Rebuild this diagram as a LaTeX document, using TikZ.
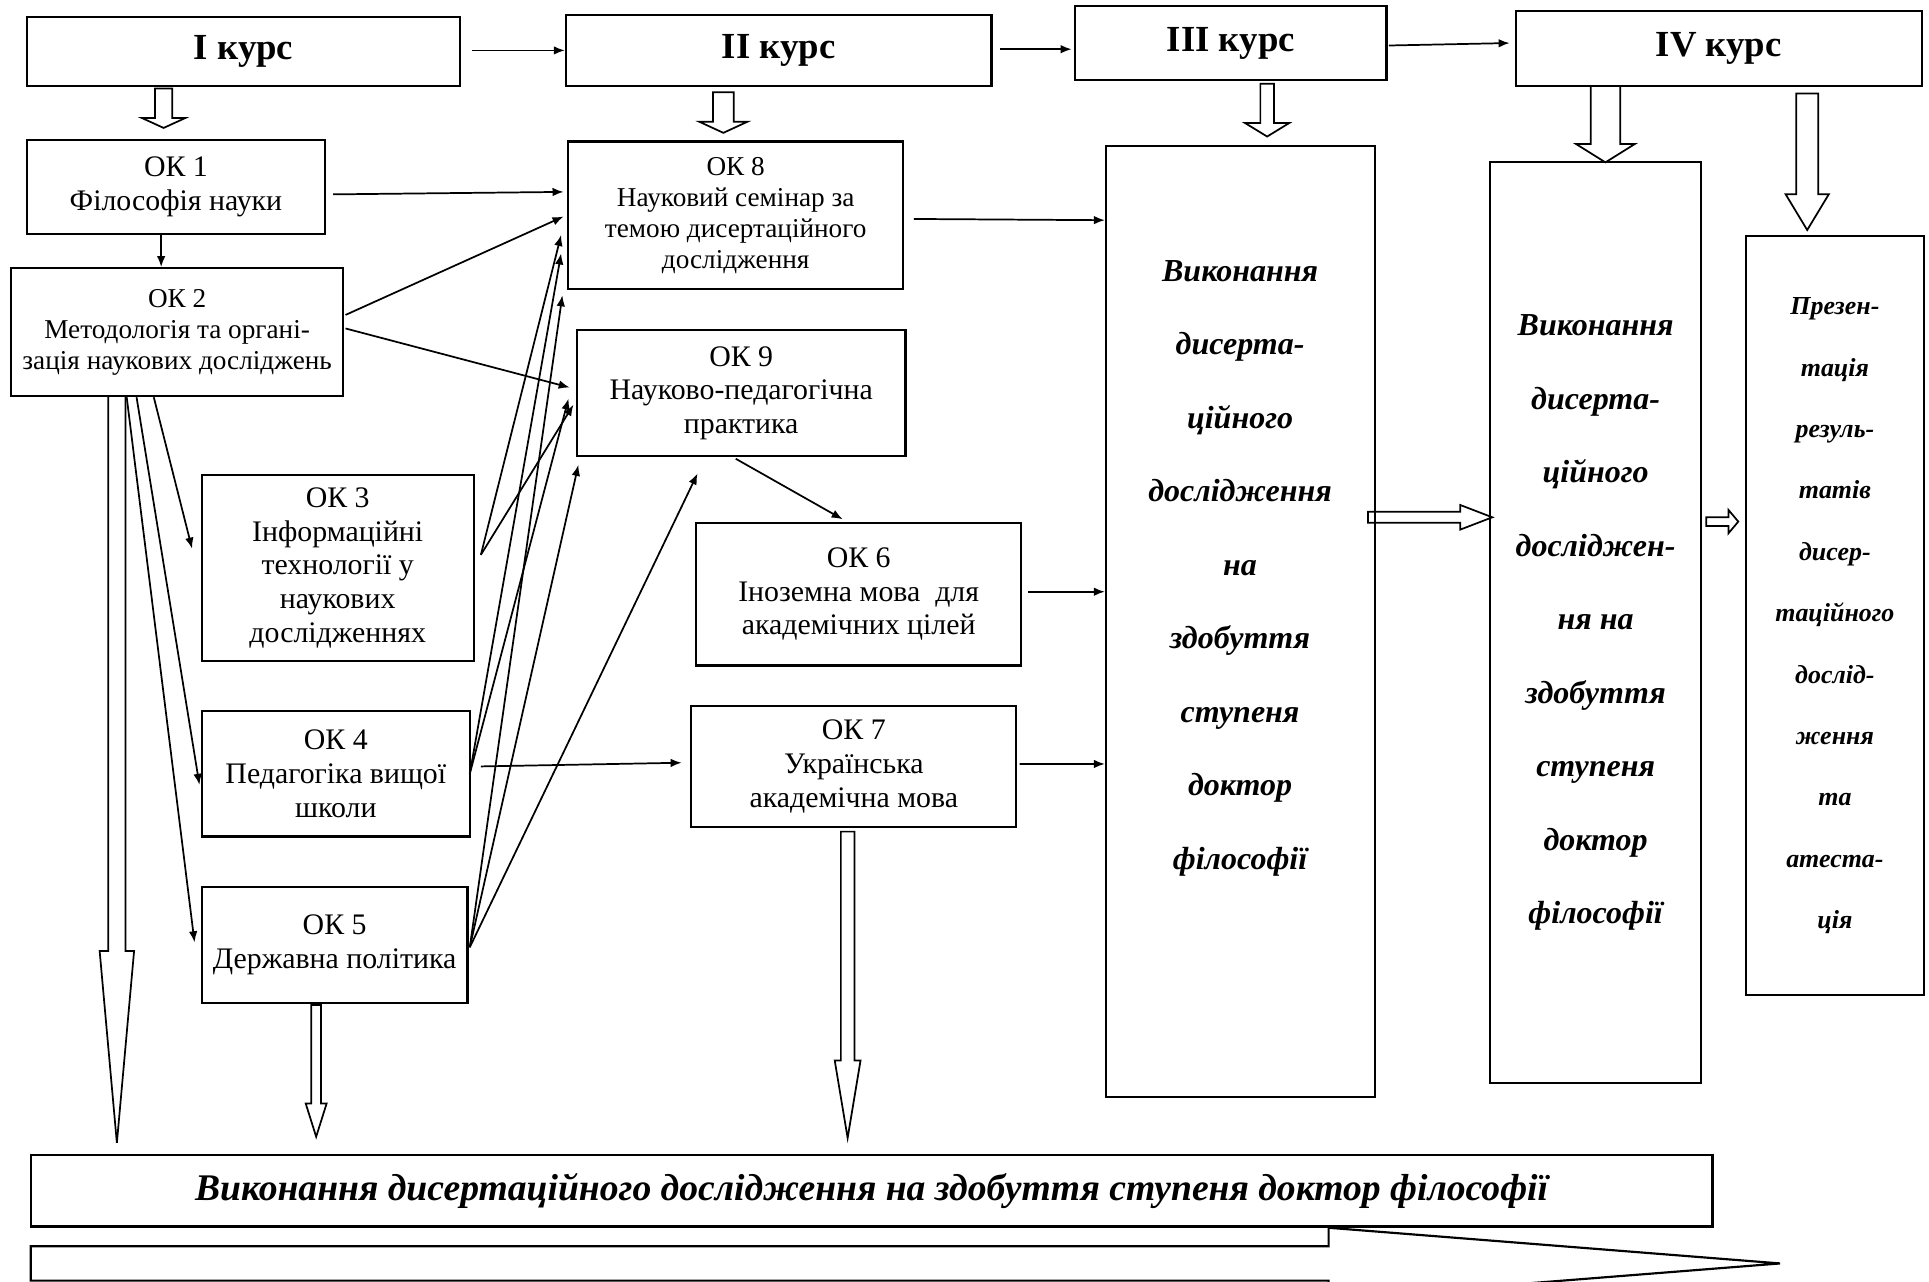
\documentclass[tikz,border=0pt]{standalone}
\usepackage{fontspec}
\setmainfont{Liberation Serif}
\usepackage{tikz}
\usetikzlibrary{calc}
\usetikzlibrary{arrows.meta,positioning}

\tikzset{
	box/.style={draw,line width=0.5pt,align=center,inner sep=1pt,font=\fontsize{6.9}{7.8}\selectfont},
	smallbox/.style={box,font=\fontsize{6.3}{7.2}\selectfont},
	kurs/.style={box,font=\fontsize{8.5}{10}\selectfont\bfseries},
	bigtext/.style={align=center,font=\fontsize{7.4}{17}\selectfont\bfseries\itshape},
	arr/.style={-{Latex[length=0.9mm,width=0.7mm]},line width=0.4pt},
	hollow/.style={draw,line width=0.4pt}
}
\newcommand{\hollowdn}[6]{\draw[hollow] (#1-#5,#2) -- (#1-#5,#3) -- (#1-#6,#3) -- (#1,#4) -- (#1+#6,#3) -- (#1+#5,#3) -- (#1+#5,#2) -- cycle;}
\newcommand{\hollowrt}[6]{\draw[hollow] (#2,#1-#5) -- (#3,#1-#5) -- (#3,#1-#6) -- (#4,#1) -- (#3,#1+#6) -- (#3,#1+#5) -- (#2,#1+#5) -- cycle;}

\begin{document}
\begin{tikzpicture}[x=0.1mm,y=-0.1mm]
	\clip (0,0) rectangle (1568,1042);
	% courses
	\node[kurs,minimum width=35.2mm,minimum height=5.6mm] (k1) at (198,42) {I курс};
	\node[kurs,minimum width=34.6mm,minimum height=5.8mm] (k2) at (633,41) {II курс};
	\node[kurs,minimum width=25.3mm,minimum height=6.0mm] (k3) at (1000.5,35) {III курс};
	\node[kurs,minimum width=33.0mm,minimum height=6.1mm] (k4) at (1397,39.5) {IV курс};
	% disciplines
	\node[box,minimum width=24.2mm,minimum height=7.6mm] (ok1) at (143,152) {ОК 1\\Філософія науки};
	\node[smallbox,minimum width=27.0mm,minimum height=10.4mm] (ok2) at (144,270) {ОК 2\\Методологія та органі-\\зація наукових досліджень};
	\node[smallbox,minimum width=27.2mm,minimum height=12.0mm] (ok8) at (598,175) {ОК 8\\Науковий семінар за\\темою дисертаційного\\дослідження};
	\node[box,minimum width=26.7mm,minimum height=10.3mm] (ok9) at (602.5,319.5) {ОК 9\\Науково-педагогічна\\практика};
	\node[box,minimum width=22.1mm,minimum height=15.1mm] (ok3) at (274.5,461.5) {ОК 3\\Інформаційні\\технології у\\наукових\\дослідженнях};
	\node[box,minimum width=26.4mm,minimum height=11.6mm] (ok6) at (698,483) {ОК 6\\Іноземна мова\ \ для\\академічних цілей};
	\node[box,minimum width=21.8mm,minimum height=10.2mm] (ok4) at (273,629) {ОК 4\\Педагогіка вищої\\школи};
	\node[box,minimum width=26.4mm,minimum height=9.8mm] (ok7) at (694,623) {ОК 7\\Українська\\академічна мова};
	\node[box,minimum width=21.6mm,minimum height=9.4mm] (ok5) at (272,768) {ОК 5\\Державна політика};
	% research columns
	\node[box,minimum width=21.9mm,minimum height=77.3mm] (b3) at (1008.5,505.5) {};
	\node[bigtext] at (1008,462) {Виконання\\дисерта-\\ційного\\дослідження\\на\\здобуття\\ступеня\\доктор\\філософії};
	\node[box,bigtext,minimum width=17.2mm,minimum height=74.8mm] (b4) at (1297,506) {Виконання\\дисерта-\\ційного\\досліджен-\\ня на\\здобуття\\ступеня\\доктор\\філософії};
	\node[box,minimum width=14.5mm,minimum height=61.7mm,font=\fontsize{6}{14.2}\selectfont\bfseries\itshape] (pr) at (1491.5,500.5) {Презен-\\тація\\резуль-\\татів\\дисер-\\таційного\\дослід-\\ження\\та\\атеста-\\ція};
	\node[box,minimum width=136.7mm,minimum height=5.8mm,font=\fontsize{8.7}{10}\selectfont\bfseries\itshape] (bot) at (708.5,968) {Виконання дисертаційного дослідження на здобуття ступеня доктор філософії};
	% thin connectors
	\draw[arr] ($(k1.east)+(9,-1)$) -- (k2.west);
	\draw[arr] ($(k2.east)+(6,-1)$) -- ($(k3.west)+(-2,5)$);
	\draw[arr] ($(k3.east)+(1,2)$) -- ($(k4.west)+(-4,-4.5)$);
	\draw[arr] ($(ok1.east)+(6,6)$) -- ($(ok8.west)+(-3,-19)$);
	\draw[arr] ($(ok1.south)+(-12,0)$) -- ($(ok2.north)+(-13,0)$);
	\draw[arr] ($(ok2.east)+(1,-14)$) -- ($(ok8.west)+(-3,1)$);
	\draw[arr] ($(ok2.east)+(1,-3)$) -- ($(ok9.west)+(-5,-4.5)$);
	\draw[arr] ($(ok2.south)+(-19,0)$) -- ($(ok3.west)+(-7,-15.5)$);
	\draw[arr] ($(ok2.south)+(-33,0)$) -- ($(ok4.west)+(-1,9)$);
	\draw[arr] ($(ok2.south)+(-41,0)$) -- ($(ok5.west)+(-5,-2)$);
	\draw[arr] ($(ok3.east)+(5,-10.5)$) -- ($(ok8.west)+(-5,16)$);
	\draw[arr] ($(ok3.east)+(5,-10.5)$) -- ($(ok9.west)+(-2,9.5)$);
	\draw[arr] ($(ok4.east)+(-1,0)$) -- ($(ok8.west)+(-5,31)$);
	\draw[arr] ($(ok4.east)+(-1,0)$) -- ($(ok9.west)+(-6,4.5)$);
	\draw[arr] ($(ok4.east)+(8,-6)$) -- ($(ok7.west)+(-7,-3)$);
	\draw[arr] ($(ok5.east)+(1,2)$) -- ($(ok8.west)+(-4,65)$);
	\draw[arr] ($(ok5.east)+(1,2)$) -- ($(ok9.south west)+(2,6)$);
	\draw[arr] ($(ok5.east)+(1,2)$) -- ($(ok9.south)+(-35.5,13)$);
	\draw[arr] ($(ok9.south)+(-4.5,1)$) -- ($(ok6.north)+(-13,-2)$);
	\draw[arr] ($(ok8.east)+(8,3)$) -- ($(b3.west)+(0,-326.5)$);
	\draw[arr] ($(ok6.east)+(5,-2)$) -- ($(b3.west)+(0,-24.5)$);
	\draw[arr] ($(ok7.east)+(2,-2)$) -- ($(b3.west)+(0,115.5)$);
	% block arrows
	\hollowdn{133}{72}{96}{104}{7}{17.5}
	\hollowdn{588}{75}{99}{108}{8.5}{19.5}
	\hollowdn{1030}{68}{100}{111}{5.5}{18}
	\hollowdn{1305}{70}{117}{132}{12}{24}
	\hollowdn{1469}{76}{158}{187}{9}{17.5}
	\hollowdn{95}{322}{773}{929}{7}{14}
	\hollowdn{257}{817}{897}{924}{4}{8.5}
	\hollowdn{689}{676}{862}{925}{5.5}{10.5}
	\hollowrt{420.5}{1112}{1187}{1213}{4.5}{10}
	\hollowrt{424}{1387}{1405}{1413}{3.5}{9.5}
	\draw[line width=0.5pt] (25,1013) -- (1080,1013) -- (1080,998) -- (1447,1027) -- (1080,1056) -- (1080,1041) -- (25,1041) -- cycle;
\end{tikzpicture}
\end{document}
